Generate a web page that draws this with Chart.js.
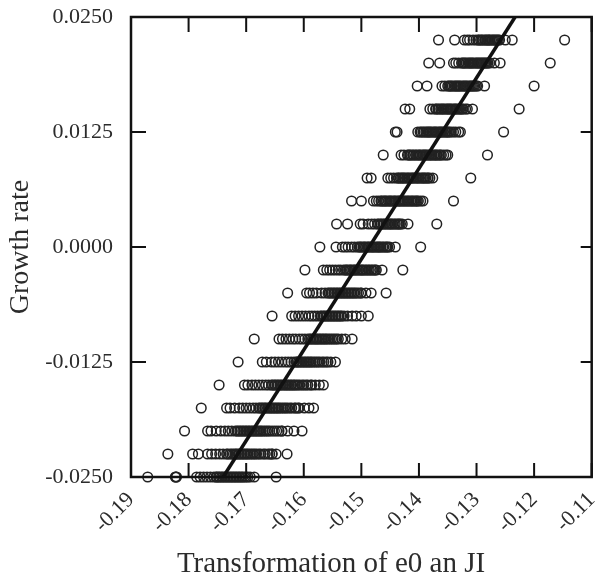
<!DOCTYPE html>
<html>
<head>
<meta charset="utf-8">
<script src="https://cdn.jsdelivr.net/npm/chart.js@4"></script>
<style>
  html, body { margin: 0; padding: 0; background: #fff; }
  #wrap { width: 598px; height: 579px; }
</style>
</head>
<body>
<div id="wrap"><canvas id="myChart"></canvas></div>
<script>
// growth rate levels (one row of points per level, top to bottom)
const rates = [0.0225, 0.02, 0.0175, 0.015, 0.0125, 0.01, 0.0075, 0.005, 0.0025, 0,
               -0.0025, -0.005, -0.0075, -0.01, -0.0125, -0.015, -0.0175, -0.02, -0.0225, -0.025];

// transformation of e0 an JI values
const transforms = [
    [-0.1366, -0.1338, -0.1321, -0.1316, -0.1312, -0.1306, -0.1301, -0.1297, -0.1293, -0.1289, -0.1284, -0.1280, -0.1277, -0.1272, -0.1268, -0.1264, -0.1260, -0.1250, -0.1238, -0.1147],
    [-0.1383, -0.1364, -0.1340, -0.1336, -0.1331, -0.1326, -0.1322, -0.1318, -0.1313, -0.1309, -0.1305, -0.1300, -0.1296, -0.1292, -0.1288, -0.1284, -0.1280, -0.1277, -0.1269, -0.1259, -0.1172],
    [-0.1403, -0.1386, -0.1360, -0.1355, -0.1350, -0.1346, -0.1342, -0.1337, -0.1333, -0.1329, -0.1324, -0.1320, -0.1316, -0.1311, -0.1307, -0.1303, -0.1298, -0.1286, -0.1200],
    [-0.1424, -0.1416, -0.1381, -0.1376, -0.1371, -0.1367, -0.1362, -0.1358, -0.1353, -0.1349, -0.1345, -0.1340, -0.1336, -0.1331, -0.1327, -0.1323, -0.1319, -0.1316, -0.1307, -0.1226],
    [-0.1441, -0.1438, -0.1402, -0.1398, -0.1393, -0.1388, -0.1384, -0.1380, -0.1375, -0.1371, -0.1366, -0.1362, -0.1358, -0.1353, -0.1349, -0.1344, -0.1340, -0.1336, -0.1331, -0.1328, -0.1253],
    [-0.1462, -0.1431, -0.1426, -0.1420, -0.1416, -0.1411, -0.1406, -0.1401, -0.1397, -0.1392, -0.1388, -0.1383, -0.1379, -0.1374, -0.1370, -0.1365, -0.1361, -0.1357, -0.1353, -0.1350, -0.1281],
    [-0.1490, -0.1483, -0.1454, -0.1449, -0.1444, -0.1439, -0.1435, -0.1430, -0.1426, -0.1421, -0.1417, -0.1412, -0.1408, -0.1403, -0.1399, -0.1394, -0.1390, -0.1385, -0.1381, -0.1376, -0.1310],
    [-0.1517, -0.1500, -0.1479, -0.1474, -0.1470, -0.1465, -0.1460, -0.1456, -0.1451, -0.1447, -0.1442, -0.1437, -0.1433, -0.1428, -0.1424, -0.1419, -0.1414, -0.1410, -0.1405, -0.1401, -0.1397, -0.1393, -0.1340],
    [-0.1543, -0.1524, -0.1502, -0.1497, -0.1488, -0.1482, -0.1477, -0.1472, -0.1467, -0.1462, -0.1457, -0.1452, -0.1448, -0.1443, -0.1438, -0.1434, -0.1429, -0.1419, -0.1369],
    [-0.1572, -0.1544, -0.1533, -0.1528, -0.1523, -0.1517, -0.1512, -0.1507, -0.1502, -0.1497, -0.1493, -0.1488, -0.1483, -0.1479, -0.1474, -0.1470, -0.1466, -0.1461, -0.1456, -0.1451, -0.1441, -0.1397],
    [-0.1598, -0.1566, -0.1560, -0.1555, -0.1550, -0.1545, -0.1540, -0.1536, -0.1531, -0.1526, -0.1521, -0.1517, -0.1512, -0.1507, -0.1502, -0.1498, -0.1493, -0.1488, -0.1483, -0.1478, -0.1474, -0.1464, -0.1428],
    [-0.1628, -0.1595, -0.1590, -0.1584, -0.1578, -0.1569, -0.1563, -0.1558, -0.1553, -0.1548, -0.1543, -0.1538, -0.1533, -0.1528, -0.1523, -0.1518, -0.1513, -0.1508, -0.1501, -0.1492, -0.1483, -0.1457],
    [-0.1655, -0.1621, -0.1615, -0.1609, -0.1603, -0.1597, -0.1591, -0.1586, -0.1581, -0.1576, -0.1571, -0.1566, -0.1561, -0.1556, -0.1551, -0.1546, -0.1541, -0.1536, -0.1530, -0.1524, -0.1516, -0.1509, -0.1500, -0.1488],
    [-0.1686, -0.1643, -0.1637, -0.1631, -0.1625, -0.1619, -0.1614, -0.1608, -0.1603, -0.1598, -0.1593, -0.1588, -0.1583, -0.1578, -0.1573, -0.1568, -0.1563, -0.1558, -0.1552, -0.1546, -0.1540, -0.1534, -0.1528, -0.1516],
    [-0.1714, -0.1672, -0.1665, -0.1656, -0.1650, -0.1644, -0.1638, -0.1632, -0.1627, -0.1622, -0.1617, -0.1612, -0.1607, -0.1602, -0.1597, -0.1592, -0.1587, -0.1581, -0.1575, -0.1568, -0.1561, -0.1553, -0.1545],
    [-0.1747, -0.1703, -0.1697, -0.1690, -0.1684, -0.1678, -0.1672, -0.1666, -0.1661, -0.1656, -0.1651, -0.1646, -0.1641, -0.1636, -0.1631, -0.1626, -0.1621, -0.1616, -0.1610, -0.1603, -0.1596, -0.1588, -0.1580, -0.1573, -0.1566],
    [-0.1778, -0.1734, -0.1728, -0.1720, -0.1712, -0.1706, -0.1700, -0.1694, -0.1688, -0.1683, -0.1678, -0.1673, -0.1668, -0.1663, -0.1658, -0.1653, -0.1648, -0.1643, -0.1637, -0.1631, -0.1624, -0.1616, -0.1608, -0.1599, -0.1591, -0.1583],
    [-0.1807, -0.1767, -0.1761, -0.1752, -0.1744, -0.1737, -0.1731, -0.1725, -0.1719, -0.1714, -0.1709, -0.1704, -0.1699, -0.1694, -0.1689, -0.1684, -0.1679, -0.1674, -0.1668, -0.1662, -0.1655, -0.1647, -0.1638, -0.1628, -0.1617, -0.1603],
    [-0.1836, -0.1793, -0.1783, -0.1767, -0.1760, -0.1753, -0.1746, -0.1740, -0.1734, -0.1728, -0.1722, -0.1717, -0.1712, -0.1707, -0.1702, -0.1697, -0.1691, -0.1685, -0.1678, -0.1670, -0.1662, -0.1655, -0.1648, -0.1629],
    [-0.1871, -0.1823, -0.1822, -0.1821, -0.1786, -0.1780, -0.1774, -0.1768, -0.1762, -0.1756, -0.1751, -0.1746, -0.1741, -0.1736, -0.1731, -0.1726, -0.1721, -0.1716, -0.1711, -0.1706, -0.1700, -0.1693, -0.1686, -0.1648]
];

// extra points in the solid-looking core of each row
const coreTransforms = [
    [-0.1296, -0.1291, -0.1286, -0.1282, -0.1278, -0.1274, -0.1270, -0.1266, -0.1262],
    [-0.1324, -0.1320, -0.1315, -0.1311, -0.1307, -0.1302, -0.1298, -0.1294, -0.1290, -0.1286, -0.1282],
    [-0.1348, -0.1344, -0.1339, -0.1335, -0.1331, -0.1327, -0.1322, -0.1318, -0.1313, -0.1309, -0.1305, -0.1300],
    [-0.1370, -0.1365, -0.1360, -0.1356, -0.1351, -0.1347, -0.1343, -0.1338, -0.1334, -0.1329, -0.1325],
    [-0.1396, -0.1391, -0.1386, -0.1382, -0.1378, -0.1373, -0.1369, -0.1364, -0.1360, -0.1355, -0.1351, -0.1347],
    [-0.1418, -0.1414, -0.1409, -0.1404, -0.1399, -0.1394, -0.1390, -0.1386, -0.1381, -0.1377, -0.1372, -0.1368, -0.1363],
    [-0.1436, -0.1432, -0.1428, -0.1424, -0.1419, -0.1414, -0.1410, -0.1405, -0.1401, -0.1396, -0.1392, -0.1388, -0.1384],
    [-0.1466, -0.1462, -0.1458, -0.1453, -0.1449, -0.1444, -0.1440, -0.1435, -0.1431, -0.1426, -0.1421, -0.1417, -0.1412, -0.1407, -0.1403],
    [-0.1470, -0.1465, -0.1460, -0.1455, -0.1450, -0.1446, -0.1441, -0.1436, -0.1432],
    [-0.1504, -0.1500, -0.1495, -0.1490, -0.1486, -0.1481, -0.1477, -0.1472, -0.1468, -0.1463, -0.1458, -0.1454],
    [-0.1528, -0.1524, -0.1519, -0.1514, -0.1510, -0.1505, -0.1500, -0.1496, -0.1491, -0.1486, -0.1481, -0.1476],
    [-0.1556, -0.1551, -0.1546, -0.1541, -0.1536, -0.1531, -0.1526, -0.1521, -0.1516, -0.1511, -0.1505, -0.1500],
    [-0.1569, -0.1564, -0.1559, -0.1554, -0.1549, -0.1544, -0.1539, -0.1534],
    [-0.1590, -0.1585, -0.1580, -0.1576, -0.1571, -0.1566, -0.1561, -0.1555, -0.1549, -0.1543],
    [-0.1613, -0.1609, -0.1604, -0.1599, -0.1594, -0.1589, -0.1584, -0.1578, -0.1572, -0.1565, -0.1558],
    [-0.1654, -0.1649, -0.1644, -0.1639, -0.1633, -0.1628, -0.1623, -0.1618, -0.1613, -0.1607, -0.1600, -0.1593, -0.1586],
    [-0.1676, -0.1671, -0.1666, -0.1660, -0.1655, -0.1650, -0.1645, -0.1640, -0.1634, -0.1628, -0.1621, -0.1614, -0.1610],
    [-0.1716, -0.1711, -0.1706, -0.1701, -0.1696, -0.1691, -0.1686, -0.1681, -0.1676, -0.1671, -0.1665, -0.1659, -0.1651, -0.1643, -0.1638],
    [-0.1732, -0.1725, -0.1719, -0.1714, -0.1709, -0.1704, -0.1699, -0.1694, -0.1688, -0.1682, -0.1675, -0.1667, -0.1659, -0.1655],
    [-0.1752, -0.1748, -0.1743, -0.1738, -0.1733, -0.1728, -0.1723, -0.1718, -0.1713, -0.1708, -0.1703, -0.1697]
];

// fitted line end points
const fitX = [-0.1740, -0.1233];
const fitY = [-0.025, 0.025];

const xTitle = 'Transformation of e0 an JI';
const yTitle = 'Growth rate';

const points = [];
rates.forEach((r, i) => {
    transforms[i].forEach(x => points.push({ x: x, y: r }));
    coreTransforms[i].forEach(x => points.push({ x: x, y: r }));
});

const serif = '"Liberation Serif", "DejaVu Serif", serif';
const ink = '#2b2b2b';

// box frame with inward tick marks on all four sides, plus the x title
const frameTicks = {
    id: 'frameTicks',
    afterDraw(chart) {
        const ctx = chart.ctx;
        const a = chart.chartArea;
        const xs = chart.scales.x, ys = chart.scales.y;
        ctx.save();
        ctx.strokeStyle = '#111';
        ctx.lineWidth = 2;
        ctx.beginPath();
        xs.ticks.forEach(t => {
            const px = xs.getPixelForValue(t.value);
            ctx.moveTo(px, a.bottom); ctx.lineTo(px, a.bottom - 14);
            ctx.moveTo(px, a.top); ctx.lineTo(px, a.top + 15);
        });
        ys.ticks.forEach(t => {
            const py = ys.getPixelForValue(t.value);
            ctx.moveTo(a.left, py); ctx.lineTo(a.left + 15, py);
            ctx.moveTo(a.right, py); ctx.lineTo(a.right - 11, py);
        });
        ctx.stroke();
        ctx.lineWidth = 2.5;
        ctx.strokeRect(a.left, a.top, a.right - a.left, a.bottom - a.top);

        ctx.fillStyle = ink;
        ctx.font = '29px ' + serif;
        ctx.textAlign = 'center';
        ctx.textBaseline = 'alphabetic';
        ctx.fillText(xTitle, a.left + 200, chart.height - 7);
        ctx.restore();
    }
};

const ctx = document.getElementById('myChart');
const myChart = new Chart(ctx, {
    type: 'scatter',
    data: {
        datasets: [{
            type: 'line',
            data: fitX.map((x, i) => ({ x: x, y: fitY[i] })),
            borderColor: '#111',
            borderWidth: 3.5,
            pointRadius: 0,
            fill: false,
            order: 0
        }, {
            data: points,
            pointStyle: 'circle',
            pointRadius: 4.8,
            borderWidth: 1.5,
            borderColor: '#222',
            backgroundColor: 'rgba(0,0,0,0)',
            clip: false,
            order: 1
        }]
    },
    options: {
        responsive: true,
        maintainAspectRatio: false,
        animation: false,
        events: [],
        layout: { padding: { top: 17, right: 3, left: 0, bottom: 0 } },
        plugins: { legend: { display: false }, tooltip: { enabled: false } },
        scales: {
            x: {
                type: 'linear',
                min: -0.19,
                max: -0.11,
                grid: { display: false, drawTicks: false },
                border: { display: false },
                ticks: {
                    stepSize: 0.01,
                    autoSkip: false,
                    minRotation: 45,
                    maxRotation: 45,
                    padding: 10,
                    color: ink,
                    font: { family: serif, size: 22 },
                    callback: v => v.toFixed(2)
                },
                afterFit(s) { s.height = 102; s.paddingLeft = 0; s.paddingRight = 0; }
            },
            y: {
                type: 'linear',
                min: -0.025,
                max: 0.025,
                grid: { display: false, drawTicks: false },
                border: { display: false },
                ticks: {
                    stepSize: 0.0125,
                    padding: 18,
                    color: ink,
                    font: { family: serif, size: 22 },
                    callback: v => Math.abs(v) < 1e-9 ? '0.0000' : v.toFixed(4)
                },
                title: {
                    display: true,
                    text: yTitle,
                    color: ink,
                    font: { family: serif, size: 28 },
                    padding: { top: 4, bottom: 0 }
                },
                afterFit(s) { s.width = 131; s.paddingTop = 0; s.paddingBottom = 0; }
            }
        }
    },
    plugins: [frameTicks]
});
</script>
</body>
</html>
